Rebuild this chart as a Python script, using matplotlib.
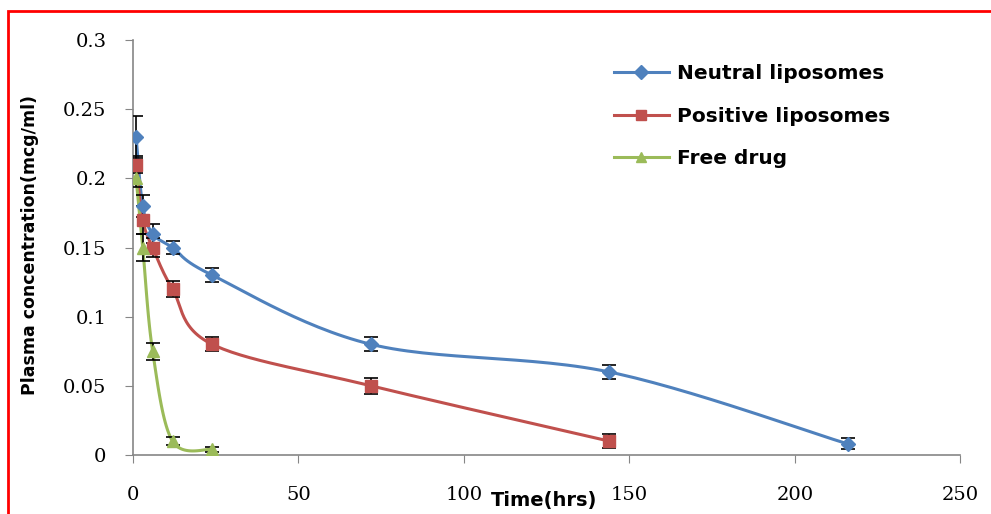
import numpy as np
import matplotlib.pyplot as plt
from matplotlib.patches import Rectangle

# data
t_neutral = [1, 3, 6, 12, 24, 72, 144, 216]
neutral = [0.23, 0.18, 0.16, 0.15, 0.13, 0.08, 0.06, 0.008]
neutral_err = [0.015, 0.008, 0.007, 0.005, 0.005, 0.005, 0.005, 0.004]

t_positive = [1, 3, 6, 12, 24, 72, 144]
positive = [0.21, 0.17, 0.15, 0.12, 0.08, 0.05, 0.01]
positive_err = [0.006, 0.01, 0.007, 0.006, 0.005, 0.006, 0.005]

t_free = [1, 3, 6, 12, 24]
free = [0.2, 0.15, 0.075, 0.01, 0.004]
free_err = [0.006, 0.01, 0.006, 0.003, 0.002]

labels = ['Neutral liposomes', 'Positive liposomes', 'Free drug']
colors = ['#4F81BD', '#C0504D', '#9BBB59']
markers = ['D', 's', '^']

fig = plt.figure(figsize=(9.91, 5.14), dpi=100)
ax = fig.add_axes([0.134, 0.1148, 0.835, 0.8073])
ax.set_xlim(0, 250)
ax.set_ylim(0, 0.3)


def smooth(x, y):
    # excel-like smoothed line: catmull-rom bezier in pixel space
    pts = ax.transData.transform(np.column_stack([x, y]))
    out = []
    n = len(pts)
    s = np.linspace(0, 1, 30)
    for i in range(n - 1):
        p0 = pts[max(i - 1, 0)]
        p1 = pts[i]
        p2 = pts[i + 1]
        p3 = pts[min(i + 2, n - 1)]
        c1 = p1 + (p2 - p0) / 6
        c2 = p2 - (p3 - p1) / 6
        seg = ((1 - s) ** 3)[:, None] * p1 + (3 * (1 - s) ** 2 * s)[:, None] * c1 \
            + (3 * (1 - s) * s ** 2)[:, None] * c2 + (s ** 3)[:, None] * p2
        out.append(seg)
    out = np.vstack(out)
    d = ax.transData.inverted().transform(out)
    return d[:, 0], d[:, 1]


series = [(t_neutral, neutral, neutral_err), (t_positive, positive, positive_err), (t_free, free, free_err)]
for (t, v, e), lab, c, m in zip(series, labels, colors, markers):
    sx, sy = smooth(t, v)
    ax.plot(sx, sy, color=c, lw=2.2, zorder=2)
    ax.errorbar(t, v, yerr=e, fmt='none', ecolor='black', elinewidth=1.2, capsize=5, capthick=1.2, zorder=3)
    ax.plot(t, v, ls='none', marker=m, ms=8 if m != 'D' else 7, color=c, mec=c, zorder=4)
    ax.plot([], [], color=c, lw=2.2, marker=m, ms=7, label=lab)

for sp in ['top', 'right']:
    ax.spines[sp].set_visible(False)
for sp in ['left', 'bottom']:
    ax.spines[sp].set_color('#868686')
    ax.spines[sp].set_linewidth(1.2)

ax.set_xticks([0, 50, 100, 150, 200, 250])
ax.set_yticks([0, 0.05, 0.1, 0.15, 0.2, 0.25, 0.3])
ax.set_yticklabels(['0', '0.05', '0.1', '0.15', '0.2', '0.25', '0.3'])
ax.tick_params(direction='out', length=6, color='#868686', labelsize=14)
ax.tick_params(axis='x', pad=16)
ax.tick_params(axis='y', pad=13)
for lbl in ax.get_xticklabels() + ax.get_yticklabels():
    lbl.set_family('DejaVu Serif')

fig.text(0.549, 0.027, 'Time(hrs)', fontsize=14, fontweight='bold', ha='center', va='center')
fig.text(0.030, 0.523, 'Plasma concentration(mcg/ml)', fontsize=12.5, fontweight='bold',
         rotation=90, ha='center', va='center')

leg = ax.legend(loc='upper left', bbox_to_anchor=(0.56, 0.985), frameon=False,
                prop={'size': 14.5, 'weight': 'bold'}, handlelength=2.7, labelspacing=1.15, handletextpad=0.4)

fig.patches.append(Rectangle((8 / 991, -0.1), 1.1, 1 - 11 / 514 + 0.1, transform=fig.transFigure,
                             fill=False, edgecolor='red', lw=2, zorder=10))

fig.savefig('out.png', dpi=100)
